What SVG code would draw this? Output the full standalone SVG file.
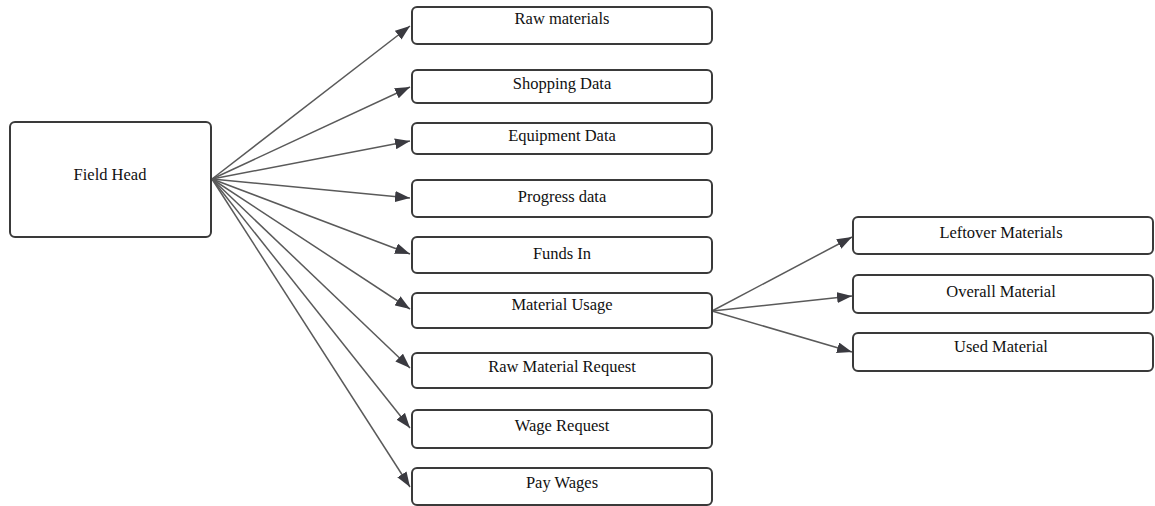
<svg xmlns="http://www.w3.org/2000/svg" width="1155" height="506" viewBox="0 0 1155 506">
<style>
.box{fill:#fff;stroke:#3a3a3a;stroke-width:2}
.lbl{font-family:"Liberation Serif","Times New Roman",serif;font-size:16.5px;fill:#111;text-anchor:middle}
.edge{stroke:#5a5a5a;stroke-width:1.5;fill:none;marker-end:url(#ah)}
</style>
<defs>
<marker id="ah" markerUnits="userSpaceOnUse" viewBox="0 0 15 11" refX="15" refY="5.5" markerWidth="15" markerHeight="11" orient="auto">
<path d="M0,0 L15,5.5 L0,11 z" fill="#3a3a40"/>
</marker>
</defs>
<rect width="1155" height="506" fill="#fff"/>
<g id="connectors">
<line class="edge" x1="212" y1="179" x2="410" y2="26"/>
<line class="edge" x1="212" y1="179" x2="410" y2="87"/>
<line class="edge" x1="212" y1="179" x2="410" y2="141"/>
<line class="edge" x1="212" y1="179" x2="410" y2="198"/>
<line class="edge" x1="212" y1="179" x2="410" y2="254"/>
<line class="edge" x1="212" y1="179" x2="410" y2="309"/>
<line class="edge" x1="212" y1="179" x2="410" y2="368"/>
<line class="edge" x1="212" y1="179" x2="410" y2="428"/>
<line class="edge" x1="212" y1="179" x2="410" y2="487"/>
<line class="edge" x1="712" y1="311" x2="852" y2="237"/>
<line class="edge" x1="712" y1="311" x2="852" y2="296"/>
<line class="edge" x1="712" y1="311" x2="852" y2="352"/>
</g>
<g id="field-head"><rect class="box" x="10" y="122" width="201" height="115" rx="5"/><text class="lbl" x="110" y="180">Field Head</text></g>
<g id="raw-materials"><rect class="box" x="412" y="7" width="300" height="37" rx="5"/><text class="lbl" x="562" y="24">Raw materials</text></g>
<g id="shopping-data"><rect class="box" x="412" y="70" width="300" height="33" rx="5"/><text class="lbl" x="562" y="89">Shopping Data</text></g>
<g id="equipment-data"><rect class="box" x="412" y="123" width="300" height="31" rx="5"/><text class="lbl" x="562" y="141">Equipment Data</text></g>
<g id="progress-data"><rect class="box" x="412" y="180" width="300" height="37" rx="5"/><text class="lbl" x="562" y="202">Progress data</text></g>
<g id="funds-in"><rect class="box" x="412" y="237" width="300" height="36" rx="5"/><text class="lbl" x="562" y="259">Funds In</text></g>
<g id="material-usage"><rect class="box" x="412" y="293" width="300" height="35" rx="5"/><text class="lbl" x="562" y="310">Material Usage</text></g>
<g id="raw-material-request"><rect class="box" x="412" y="353" width="300" height="35" rx="5"/><text class="lbl" x="562" y="372">Raw Material Request</text></g>
<g id="wage-request"><rect class="box" x="412" y="410" width="300" height="38" rx="5"/><text class="lbl" x="562" y="431">Wage Request</text></g>
<g id="pay-wages"><rect class="box" x="412" y="468" width="300" height="37" rx="5"/><text class="lbl" x="562" y="488">Pay Wages</text></g>
<g id="leftover-materials"><rect class="box" x="853" y="217" width="300" height="37" rx="5"/><text class="lbl" x="1001" y="238">Leftover Materials</text></g>
<g id="overall-material"><rect class="box" x="853" y="275" width="300" height="38" rx="5"/><text class="lbl" x="1001" y="297">Overall Material</text></g>
<g id="used-material"><rect class="box" x="853" y="333" width="300" height="38" rx="5"/><text class="lbl" x="1001" y="352">Used Material</text></g>
</svg>
